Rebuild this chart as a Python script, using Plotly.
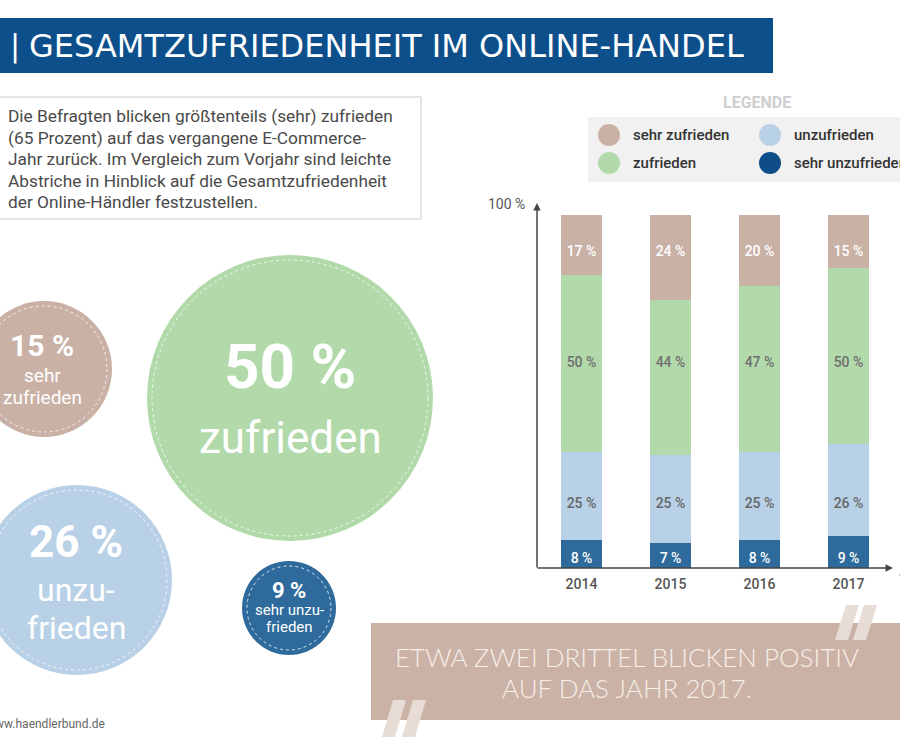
import plotly.graph_objects as go

# ---------------- data ----------------
years = ["2014", "2015", "2016", "2017"]
sehr_zufrieden = [17, 24, 20, 15]
zufrieden = [50, 44, 47, 50]
unzufrieden = [25, 25, 25, 26]
sehr_unzufrieden = [8, 7, 8, 9]
series_names = ["sehr zufrieden", "zufrieden", "unzufrieden", "sehr unzufrieden"]
title_text = "GESAMTZUFRIEDENHEIT IM ONLINE-HANDEL"
intro_lines = [
    "Die Befragten blicken größtenteils (sehr) zufrieden",
    "(65 Prozent) auf das vergangene E-Commerce-",
    "Jahr zurück. Im Vergleich zum Vorjahr sind leichte",
    "Abstriche in Hinblick auf die Gesamtzufriedenheit",
    "der Online-Händler festzustellen.",
]
quote_lines = ["ETWA ZWEI DRITTEL BLICKEN POSITIV", "AUF DAS JAHR 2017."]
bubble_labels = {
    "sehr zufrieden": ["sehr", "zufrieden"],
    "zufrieden": ["zufrieden"],
    "unzufrieden": ["unzu-", "frieden"],
    "sehr unzufrieden": ["sehr unzu-", "frieden"],
}
source_text = "www.haendlerbund.de"

# ---------------- style ----------------
W, H = 900, 750
FONT = "Roboto, 'Noto Sans', sans-serif"
TITLE_FONT = "'DejaVu Sans', sans-serif"
colors = {
    "sehr zufrieden": "#c9b1a5",
    "zufrieden": "#b2d9a9",
    "unzufrieden": "#b9d1e6",
    "sehr unzufrieden": "#2e6b9c",
}
legend_dot = dict(colors)
legend_dot["sehr unzufrieden"] = "#0e4d87"
text_colors = {
    "sehr zufrieden": "#ffffff",
    "zufrieden": "#6f6f6f",
    "unzufrieden": "#666666",
    "sehr unzufrieden": "#ffffff",
}
# the reference prints each series' labels on one common row (axis units)
label_level = {
    "sehr zufrieden": 89.5,
    "zufrieden": 58.0,
    "unzufrieden": 18.0,
    "sehr unzufrieden": 2.3,
}


def px(x):
    return x / W


def py(y):
    return 1 - y / H


values = {
    "sehr zufrieden": sehr_zufrieden,
    "zufrieden": zufrieden,
    "unzufrieden": unzufrieden,
    "sehr unzufrieden": sehr_unzufrieden,
}

fig = go.Figure()
for name in reversed(series_names):
    vals = values[name]
    fig.add_trace(go.Bar(
        x=years, y=vals, name=name,
        marker=dict(color=colors[name], line=dict(width=0)),
        textposition="none",
        showlegend=False, hoverinfo="skip",
    ))
for name in series_names:
    vals = values[name]
    fig.add_trace(go.Scatter(
        x=years, y=[label_level[name]] * len(years), mode="text",
        text=[f"{v} %" for v in vals], textposition="middle center",
        textfont=dict(family=FONT, size=14, color=text_colors[name], weight=500),
        showlegend=False, hoverinfo="skip",
    ))

shapes = []
ann = []

# title bar
shapes.append(dict(type="rect", xref="paper", yref="paper",
                   x0=px(0), x1=px(773), y0=py(73), y1=py(18),
                   fillcolor="#0d4f8b", line=dict(width=0), layer="below"))
ann.append(dict(text="|", x=px(8), y=py(46), xanchor="left", yanchor="middle",
                font=dict(family=TITLE_FONT, size=30, color="white")))
ann.append(dict(text=title_text, x=px(27), y=py(46), xanchor="left", yanchor="middle",
                font=dict(family=TITLE_FONT, size=32, color="white")))

# intro box
shapes.append(dict(type="rect", xref="paper", yref="paper",
                   x0=px(-2), x1=px(421), y0=py(219), y1=py(97),
                   fillcolor="white", line=dict(color="#dddddd", width=1.5), layer="below"))
for i, line in enumerate(intro_lines):
    ann.append(dict(text=line, x=px(6), y=py(116 + i * 21.5), xanchor="left", yanchor="middle",
                    font=dict(family=FONT, size=17.3, color="#4a4a4a")))

# legend
ann.append(dict(text="<b>LEGENDE</b>", x=px(757), y=py(102), xanchor="center", yanchor="middle",
                font=dict(family=FONT, size=16, color="#cfcfcf")))
shapes.append(dict(type="rect", xref="paper", yref="paper",
                   x0=px(588), x1=px(902), y0=py(182), y1=py(117),
                   fillcolor="#f1f1f1", line=dict(width=0), layer="below"))
leg_pos = {
    "sehr zufrieden": (609, 135),
    "zufrieden": (609, 163),
    "unzufrieden": (770, 135),
    "sehr unzufrieden": (770, 163),
}
for name in series_names:
    cx, cy = leg_pos[name]
    r = 11
    shapes.append(dict(type="circle", xref="paper", yref="paper",
                       x0=px(cx - r), x1=px(cx + r), y0=py(cy + r), y1=py(cy - r),
                       fillcolor=legend_dot[name], line=dict(width=0)))
    ann.append(dict(text=name, x=px(cx + 22), y=py(cy), xanchor="left", yanchor="middle",
                    font=dict(family=FONT, size=15, color="#333333", weight=500)))

# axes arrows
ann.append(dict(text="", x=px(537), y=py(203), xref="paper", yref="paper",
                showarrow=True, ax=0, ay=366, arrowhead=2, arrowsize=1, arrowwidth=1.5,
                arrowcolor="#444444"))
ann.append(dict(text="", x=px(893), y=py(568), xref="paper", yref="paper",
                showarrow=True, ax=-357, ay=0, arrowhead=2, arrowsize=1, arrowwidth=1.5,
                arrowcolor="#444444"))
ann.append(dict(text="100 %", x=px(527), y=py(204), xanchor="right", yanchor="middle",
                font=dict(family=FONT, size=14, color="#555555")))
ann.append(dict(text="Jahr", x=px(897), y=py(572), xanchor="left", yanchor="middle",
                font=dict(family=FONT, size=13, color="#555555")))

# bubbles (2017 values)
bubble_geom = {
    "sehr zufrieden": (44, 369, 68),
    "zufrieden": (290, 398, 143),
    "unzufrieden": (77, 580, 95),
    "sehr unzufrieden": (289, 608, 47),
}
for name in series_names:
    cx, cy, r = bubble_geom[name]
    shapes.append(dict(type="circle", xref="paper", yref="paper",
                       x0=px(cx - r), x1=px(cx + r), y0=py(cy + r), y1=py(cy - r),
                       fillcolor=colors[name], line=dict(width=0), layer="below"))
    ri = r - 5
    shapes.append(dict(type="circle", xref="paper", yref="paper",
                       x0=px(cx - ri), x1=px(cx + ri), y0=py(cy + ri), y1=py(cy - ri),
                       fillcolor="rgba(0,0,0,0)",
                       line=dict(color="rgba(255,255,255,0.8)", width=1, dash="dot"),
                       layer="below"))

v17 = {n: values[n][-1] for n in series_names}
bubble_text = {
    "sehr zufrieden": [(f"<b>{v17['sehr zufrieden']} %</b>", 345, 30, 42)]
    + [(t, 375 + 23 * i, 19, 42) for i, t in enumerate(bubble_labels["sehr zufrieden"])],
    "zufrieden": [(f"<b>{v17['zufrieden']} %</b>", 366, 62, 290),
                  (bubble_labels["zufrieden"][0], 438, 44, 290)],
    "unzufrieden": [(f"<b>{v17['unzufrieden']} %</b>", 542, 44, 76)]
    + [(t, 590 + 38 * i, 32, 76) for i, t in enumerate(bubble_labels["unzufrieden"])],
    "sehr unzufrieden": [(f"<b>{v17['sehr unzufrieden']} %</b>", 590, 22, 289)]
    + [(t, 610 + 17 * i, 15, 289) for i, t in enumerate(bubble_labels["sehr unzufrieden"])],
}
for name in series_names:
    for t, yy, size, xx in bubble_text[name]:
        ann.append(dict(text=t, x=px(xx), y=py(yy), xanchor="center", yanchor="middle",
                        font=dict(family=FONT, size=size, color="white")))

# quote box
shapes.append(dict(type="rect", xref="paper", yref="paper",
                   x0=px(371), x1=px(902), y0=py(720), y1=py(623),
                   fillcolor="#cbb2a6", line=dict(width=0), layer="below"))
qcol = "#e7ddd6"


def quote_path(x_bottom, y_bottom, y_top, w=13, slant=11):
    pts = [(x_bottom, y_bottom), (x_bottom + w, y_bottom),
           (x_bottom + w + slant, y_top), (x_bottom + slant, y_top)]
    return "M " + " L ".join(f"{px(a):.5f},{py(b):.5f}" for a, b in pts) + " Z"


for xb in (835, 853):
    shapes.append(dict(type="path", xref="paper", yref="paper", path=quote_path(xb, 640, 605),
                       fillcolor=qcol, line=dict(width=0)))
for xb in (382, 402):
    shapes.append(dict(type="path", xref="paper", yref="paper", path=quote_path(xb, 737, 700),
                       fillcolor=qcol, line=dict(width=0)))
for i, line in enumerate(quote_lines):
    ann.append(dict(text=line, x=px(627), y=py(657 + 31 * i), xanchor="center", yanchor="middle",
                    font=dict(family="Lato, 'Open Sans', sans-serif", size=26, color="#f6eee9",
                              weight=300)))

# source
ann.append(dict(text=source_text, x=px(107), y=py(724), xanchor="right", yanchor="middle",
                font=dict(family=FONT, size=12, color="#666666")))

for a in ann:
    a.setdefault("xref", "paper")
    a.setdefault("yref", "paper")
    a.setdefault("showarrow", False)

fig.update_layout(
    width=W, height=H, autosize=False,
    margin=dict(l=0, r=0, t=0, b=0),
    paper_bgcolor="white", plot_bgcolor="rgba(0,0,0,0)",
    barmode="stack", bargap=0.55,
    shapes=shapes, annotations=ann,
    xaxis=dict(domain=[px(537), px(893)], range=[-0.5, 3.5], type="category",
               categoryorder="array", categoryarray=years,
               showgrid=False, zeroline=False, showline=False, ticks="",
               ticklabelstandoff=6,
               tickfont=dict(family=FONT, size=14, color="#555555", weight=500)),
    yaxis=dict(domain=[py(568), py(215)], range=[0, 100], showgrid=False, zeroline=False,
               showline=False, showticklabels=False, ticks=""),
)

fig.write_html("out.html", config={"displayModeBar": False},
               post_script="document.body.style.margin='0';document.body.style.overflow='hidden';")
